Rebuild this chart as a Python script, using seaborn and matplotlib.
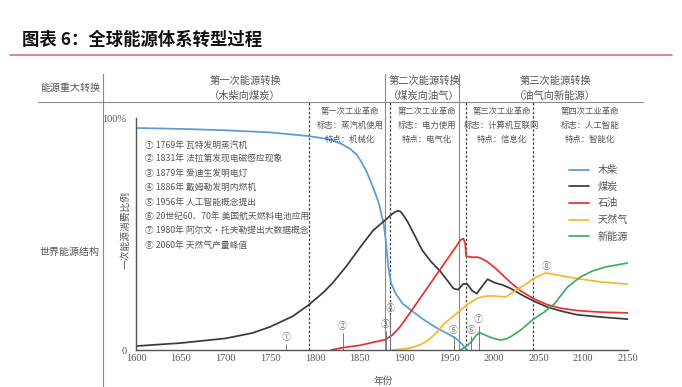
import numpy as np
import pandas as pd
import matplotlib
matplotlib.use("Agg")
import matplotlib.pyplot as plt
from matplotlib.lines import Line2D
import seaborn as sns

# ---- data (year, share of primary energy %) ----
wood_years = [1600, 1650, 1700, 1750, 1793, 1810, 1820, 1830, 1840, 1847, 1852, 1857,
              1862, 1866, 1869, 1872, 1874, 1876, 1877, 1879, 1882, 1885, 1890, 1898,
              1908, 1920, 1934, 1946, 1957, 1964, 1970]
wood = [95.7, 95.3, 94.7, 93.8, 92.2, 91.2, 90.3, 88.8, 86.5, 84, 81, 77.5,
        73, 69, 66, 62.5, 59, 56, 54, 48, 36, 29, 24.5, 20,
        17, 13.5, 10, 7.5, 5.2, 2.8, 0]

coal_years = [1600, 1650, 1700, 1730, 1750, 1775, 1793, 1810, 1820, 1835, 1852, 1865,
              1877, 1886, 1890, 1893, 1896, 1900, 1904, 1912, 1920, 1930, 1940, 1948,
              1955, 1960, 1966, 1970, 1976, 1981, 1987, 1993, 2001, 2010, 2019, 2030,
              2045, 2060, 2075, 2093, 2120, 2150]
coal = [1.7, 3.0, 5.0, 7.3, 10, 14.5, 19.4, 25, 29, 36, 45, 51.5,
        55.5, 58.5, 59.6, 60, 59.6, 57.5, 55, 49, 43, 38, 34, 30,
        26.5, 26, 28.5, 28.5, 25.5, 24.3, 27.5, 30.5, 29, 28, 26.5, 24,
        21, 18.5, 16.8, 15.2, 14.2, 13.3]

oil_years = [1818, 1831, 1850, 1865, 1879, 1886, 1893, 1900, 1908, 1918, 1927, 1936,
             1945, 1955, 1963, 1966, 1968, 1969, 1975, 1982, 1986, 1993, 2001, 2008,
             2019, 2030, 2045, 2060, 2075, 2093, 2120, 2150]
oil = [0, 1.0, 2.0, 3.3, 4.5, 6.3, 9, 12.5, 17, 22.5, 27.5, 32.5,
       37.5, 43, 47.5, 48, 46, 40.5, 40, 40, 39.5, 38, 35.5, 33,
       29, 25.5, 22, 19.5, 18, 17, 16.3, 16]

gas_years = [1887, 1900, 1908, 1918, 1927, 1936, 1945, 1953, 1960, 1970, 1982, 1990,
             2000, 2013, 2020, 2030, 2038, 2045, 2058, 2075, 2093, 2120, 2150]
gas = [0, 0.5, 1, 2.3, 4.3, 7.5, 11.6, 14, 16.2, 19.5, 22.4, 23.2,
       23.3, 22.8, 24.5, 27, 29, 31, 33.2, 32, 30.8, 29.3, 28.4]

new_years = [1963, 1969, 1975, 1980, 1984, 1990, 1998, 2007, 2014, 2020, 2030, 2045,
             2057, 2068, 2075, 2082, 2090, 2097, 2110, 2125, 2150]
new = [0, 1.5, 3.5, 6.2, 7.5, 6.5, 5.2, 4.3, 4.8, 6.0, 8.6, 13.5,
       16.5, 20, 23.5, 27, 29.5, 31.5, 34, 35.8, 37.5]

series_names = ["木柴", "煤炭", "石油", "天然气", "新能源"]
series_colors = ["#5b9bd5", "#3a3a3a", "#e8312f", "#f7b731", "#3fae5a"]

events = ["1769年 瓦特发明蒸汽机", "1831年 法拉第发现电磁感应现象", "1879年 爱迪生发明电灯",
          "1886年 戴姆勒发明内燃机", "1956年 人工智能概念提出",
          "20世纪60、70年 美国航天燃料电池应用", "1980年 阿尔文·托夫勒提出大数据概念",
          "2060年 天然气产量峰值"]
circled = ["①", "②", "③", "④", "⑤", "⑥", "⑦", "⑧"]
# where each event marker sits on the chart (year, label height %)
marker_years = [1768, 1831, 1879, 1884, 1955, 1975, 1983, 2058]
marker_label_y = [5.2, 10, 11, 18, 8.6, 8.6, 13, 36]

solid_years = [1878, 1961]
dashed_years = [1793, 1884, 1969, 2044]

transitions = [("第一次能源转换", "（木柴向煤炭）", 245),
               ("第二次能源转换", "（煤炭向油气）", 424),
               ("第三次能源转换", "（油气向新能源）", 555)]
revolutions = [("第一次工业革命", "标志：蒸汽机使用", "特点：机械化", 350),
               ("第二次工业革命", "标志：电力使用", "特点：电气化", 427),
               ("第三次工业革命", "标志：计算机互联网", "特点：信息化", 502),
               ("第四次工业革命", "标志：人工智能", "特点：智能化", 590)]

frames = []
for name, yrs, vals in zip(series_names,
                           [wood_years, coal_years, oil_years, gas_years, new_years],
                           [wood, coal, oil, gas, new]):
    frames.append(pd.DataFrame({"年份": yrs, "比例": vals, "能源": name}))
df = pd.concat(frames, ignore_index=True)

sns.set_style("white")
plt.rcParams["font.family"] = ["Noto Sans CJK SC", "DejaVu Sans"]

W, H = 682, 387
fig = plt.figure(figsize=(W / 100, H / 100), dpi=100)


def fx(px):
    return px / W


def fy(py):
    return 1 - py / H


grey = "#555555"
ax = fig.add_axes([fx(136), fy(350), 492 / W, 232 / H])

sns.lineplot(data=df, x="年份", y="比例", hue="能源", hue_order=series_names,
             palette=dict(zip(series_names, series_colors)), linewidth=1.25,
             sort=True, estimator=None, ax=ax)
for ln in ax.get_lines():
    ln.set_solid_joinstyle("round")

ax.set_xlim(1600, 2150)
ax.set_ylim(0, 100)
ax.set_xticks(np.arange(1600, 2151, 50))
ax.set_yticks([0, 100])
ax.set_yticklabels(["0", "100%"])
for lab in ax.get_xticklabels() + ax.get_yticklabels():
    lab.set_fontfamily("Liberation Serif")
    lab.set_fontsize(7.5)
    lab.set_color(grey)
ax.tick_params(axis="x", direction="in", length=4, color=grey, pad=3)
ax.tick_params(axis="y", length=0, pad=7)
for s in ["top", "right"]:
    ax.spines[s].set_visible(False)
for s in ["left", "bottom"]:
    ax.spines[s].set_color(grey)
    ax.spines[s].set_linewidth(1.0)
ax.set_xlabel("年份", fontsize=7, color=grey)
ax.xaxis.set_label_coords((383 - 136) / 492, -(376 - 350) / 232)
ax.set_ylabel("")
ax.patch.set_alpha(0)

# period separators
top_solid = (350 - 74) / 232
top_dash = (350 - 102) / 232
for yr in solid_years:
    ax.axvline(yr, 0, top_solid, color="#8a8a8a", lw=0.8, clip_on=False, zorder=1)
for yr in dashed_years:
    ax.axvline(yr, 0, top_dash, color="#444444", lw=0.9, ls=(0, (2, 1.5)),
               clip_on=False, zorder=1)

# event markers
for lab, yr, yl in zip(circled, marker_years, marker_label_y):
    ax.text(yr, yl, lab, ha="center", va="center", fontsize=6.5, color="#777777")
    if lab != "⑧":
        ax.vlines(yr, 0, yl - 2.6, color="#777777", lw=0.7)

# event list
for i, (c, e) in enumerate(zip(circled, events)):
    ax.text(0.018, (350 - 145 - i * 14.3) / 232, c + " " + e, transform=ax.transAxes,
            ha="left", va="center", fontsize=6.3, color=grey)

handles, labels = ax.get_legend_handles_labels()
ax.legend(handles, labels, loc="upper left",
          bbox_to_anchor=((560 - 136) / 492, (350 - 156) / 232), frameon=False,
          fontsize=7.3, handlelength=2.0, labelspacing=0.65, handletextpad=0.8,
          labelcolor=grey)

# frame of the table-like layout
fig.add_artist(Line2D([fx(103), fx(103)], [fy(74), fy(387)], color="#8a8a8a", lw=0.8))
fig.add_artist(Line2D([fx(38), fx(643)], [fy(102), fy(102)], color="#8a8a8a", lw=0.8))

fig.text(fx(70), fy(88), "能源重大转换", ha="center", va="center", fontsize=7.2, color=grey)
fig.text(fx(70), fy(252), "世界能源结构", ha="center", va="center", fontsize=7.2, color=grey)
fig.text(fx(125), fy(230), "一次能源消费比例", ha="center", va="center", fontsize=7,
         color=grey, rotation=90)

for t1, t2, cx in transitions:
    fig.text(fx(cx), fy(81), t1, ha="center", va="center", fontsize=7.4, color=grey)
    fig.text(fx(cx), fy(96), t2, ha="center", va="center", fontsize=7.4, color=grey)

for r1, r2, r3, cx in revolutions:
    for k, t in enumerate([r1, r2, r3]):
        fig.text(fx(cx), fy(112 + k * 13.5), t, ha="center", va="center",
                 fontsize=6.0, color=grey)

# title
fig.text(fx(22), fy(40), "图表 6：全球能源体系转型过程", ha="left", va="center",
         fontsize=12.5, weight="bold", color="#111111")
fig.add_artist(Line2D([fx(10), fx(672)], [fy(55), fy(55)], color="#e07080", lw=1.2))

fig.savefig("out.png", dpi=100)
